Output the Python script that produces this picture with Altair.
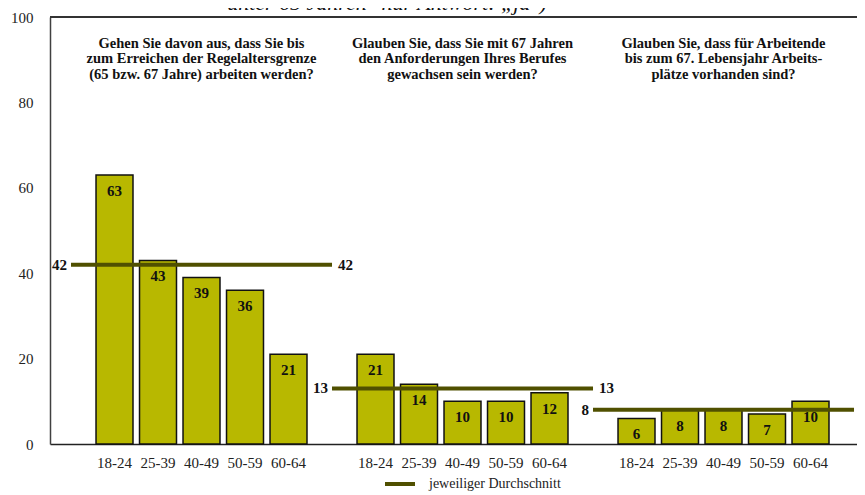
import altair as alt
import pandas as pd

ages = ["18-24", "25-39", "40-49", "50-59", "60-64"]
values_q1 = [63, 43, 39, 36, 21]
values_q2 = [21, 14, 10, 10, 12]
values_q3 = [6, 8, 8, 7, 10]
averages = [42, 13, 8]
questions = [
    "Gehen Sie davon aus, dass Sie bis\nzum Erreichen der Regelaltersgrenze\n(65 bzw. 67 Jahre) arbeiten werden?",
    "Glauben Sie, dass Sie mit 67 Jahren\nden Anforderungen Ihres Berufes\ngewachsen sein werden?",
    "Glauben Sie, dass für Arbeitende\nbis zum 67. Lebensjahr Arbeits-\nplätze vorhanden sind?",
]
top_text = "unter 65 Jahren\" nur Antwort: „ja\")"
legend_label = "jeweiliger Durchschnitt"

SERIF = "Liberation Serif"
BAR = "#b8b800"
AVG = "#505000"

rows = []
for g, vals in enumerate([values_q1, values_q2, values_q3]):
    for i, (a, v) in enumerate(zip(ages, vals)):
        s = g * 6 + i
        rows.append({"slot": s, "x0": s - 0.425, "x1": s + 0.425, "age": a, "value": v})
bars_df = pd.DataFrame(rows)

avg_df = pd.DataFrame({
    "start": [g * 6 - 1 for g in range(3)],
    "end": [g * 6 + 5 for g in range(3)],
    "avg": averages,
    "leg": [legend_label] * 3,
})
q_df = pd.DataFrame({"center": [g * 6 + 2 for g in range(3)], "q": questions})
top_df = pd.DataFrame({"t": [top_text]})

W = 807
xs = alt.Scale(domain=[-1.483, -1.483 + W / 43.5], nice=False, zero=False)
ys = alt.Scale(domain=[0, 100], nice=False)

xaxis = alt.Axis(labels=False, ticks=False, grid=False, title=None,
                 domainColor="#222222", domainWidth=1.5)
yaxis = alt.Axis(values=[0, 20, 40, 60, 80, 100], ticks=False, grid=False, title=None,
                 labelPadding=17, labelFont=SERIF, labelFontSize=15, labelColor="#222222",
                 domainColor="#404040", domainWidth=1.5)

base = alt.Chart(bars_df)

bars = base.mark_bar(fill=BAR, stroke="#111111", strokeWidth=1.5).encode(
    x=alt.X("x0:Q", scale=xs, axis=xaxis),
    x2="x1:Q",
    y=alt.Y("value:Q", scale=ys, axis=yaxis),
    y2=alt.datum(0),
)

vlabels = base.mark_text(font=SERIF, fontSize=15, fontWeight="bold", dy=16,
                         baseline="middle", color="#111111").encode(
    x=alt.X("slot:Q", scale=xs), y=alt.Y("value:Q", scale=ys), text="value:Q")

alabels = base.mark_text(font=SERIF, fontSize=15, baseline="middle", color="#222222").encode(
    x=alt.X("slot:Q", scale=xs), y=alt.value(446), text="age:N")

avg_base = alt.Chart(avg_df)
avg_rule = avg_base.mark_rule(strokeWidth=4).encode(
    x=alt.X("start:Q", scale=xs), x2="end:Q",
    y=alt.Y("avg:Q", scale=ys),
    color=alt.Color("leg:N", scale=alt.Scale(domain=[legend_label], range=[AVG]),
                    legend=alt.Legend(title=None, orient="none", legendX=333, legendY=450,
                                      symbolType="stroke", symbolStrokeWidth=4,
                                      symbolSize=900, labelFont=SERIF, labelFontSize=14,
                                      labelColor="#222222", labelOffset=12)),
)
avg_left = avg_base.mark_text(font=SERIF, fontSize=15, fontWeight="bold", align="right",
                              baseline="middle", dx=-4, color="#111111").encode(
    x=alt.X("start:Q", scale=xs), y=alt.Y("avg:Q", scale=ys), text="avg:Q")
avg_right = avg_base.mark_text(font=SERIF, fontSize=15, fontWeight="bold", align="left",
                               baseline="middle", dx=6, color="#111111").encode(
    x=alt.X("end:Q", scale=xs), y=alt.Y("avg:Q", scale=ys), text="avg:Q")

qtext = alt.Chart(q_df).mark_text(font=SERIF, fontSize=14.5, fontWeight="bold", lineBreak="\n",
                                  lineHeight=15.5, baseline="middle", align="center",
                                  color="#111111").encode(
    x=alt.X("center:Q", scale=xs), y=alt.value(26.5), text="q:N")

top_rule = alt.Chart(top_df).mark_rule(stroke="#333333", strokeWidth=2).encode(
    x=alt.value(0), x2=alt.value(W), y=alt.value(0))

top_title = alt.Chart(top_df).mark_text(font=SERIF, fontSize=22, fontStyle="italic",
                                        baseline="alphabetic", align="center",
                                        color="#111111").encode(
    x=alt.value(337), y=alt.value(-7), text="t:N")

chart = alt.layer(bars, vlabels, alabels, avg_rule, avg_left, avg_right, qtext,
                  top_rule, top_title).properties(
    width=W, height=427,
    autosize=alt.AutoSizeParams(type="none"),
    padding={"left": 42, "top": 9, "right": 0, "bottom": 51},
).configure_view(stroke=None)

chart.save("out.html", embed_options={"renderer": "svg", "actions": False})
